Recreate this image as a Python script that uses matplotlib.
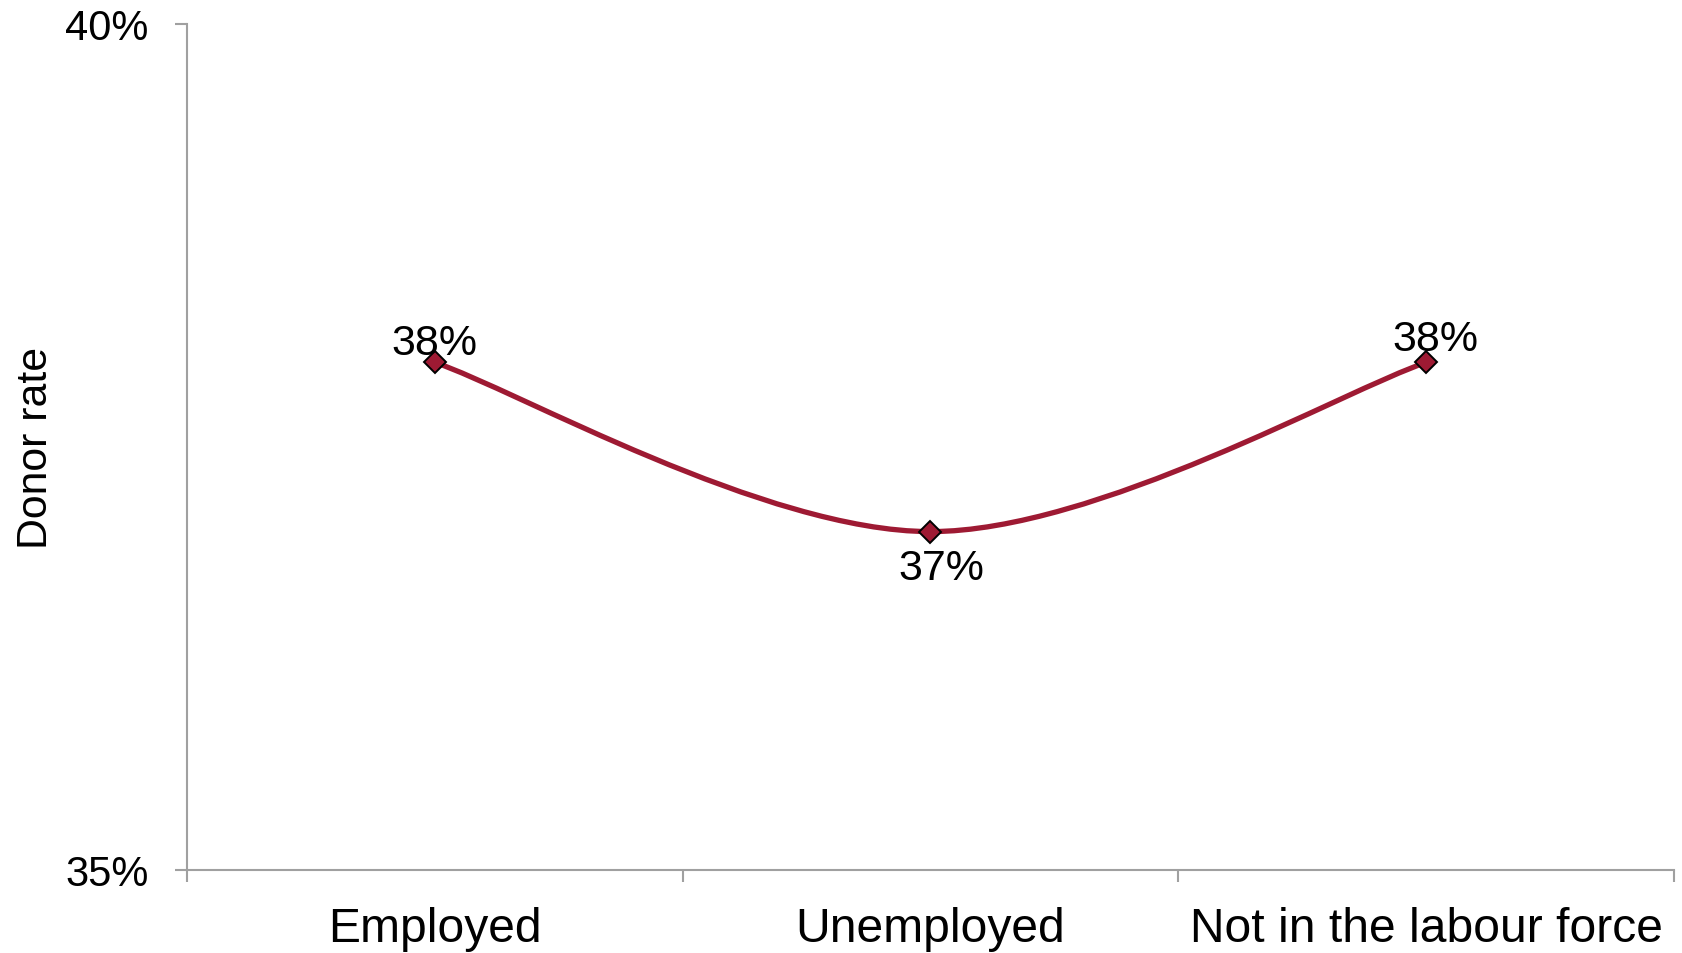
import numpy as np
import matplotlib
matplotlib.use("Agg")
import matplotlib.pyplot as plt
from matplotlib.path import Path
from matplotlib.patches import PathPatch

categories = ["Employed", "Unemployed", "Not in the labour force"]
donor_rate = [38.0, 37.0, 38.0]
value_labels = ["38%", "37%", "38%"]

plt.rcParams["font.family"] = ["Liberation Sans", "DejaVu Sans"]

LINE = "#9E1A33"
AXIS = "#A0A0A0"

fig = plt.figure(figsize=(16.83, 9.54), dpi=100)
ax = fig.add_axes([187 / 1683, 83 / 954, 1487 / 1683, 846 / 954])

x = np.arange(len(categories), dtype=float)
y = np.array(donor_rate)

# Excel-style smoothed line: cubic bezier through the points (Catmull-Rom)
pts = np.column_stack([x, y])
ext = np.vstack([pts[0], pts, pts[-1]])
verts = [tuple(pts[0])]
codes = [Path.MOVETO]
for i in range(len(pts) - 1):
    p0, p1, p2, p3 = ext[i], ext[i + 1], ext[i + 2], ext[i + 3]
    c1 = p1 + (p2 - p0) / 6
    c2 = p2 - (p3 - p1) / 6
    verts += [tuple(c1), tuple(c2), tuple(p2)]
    codes += [Path.CURVE4] * 3
ax.add_patch(PathPatch(Path(verts, codes), facecolor="none", edgecolor=LINE,
                       lw=3.8, zorder=2, capstyle="round"))
ax.plot(x, y, ls="none", marker="D", ms=11, mfc=LINE, mec="black", mew=1.4, zorder=3)

# data labels (offsets in points)
offsets = [(0, 6), (8, -34), (7, 9)]
for xi, yi, lab, off in zip(x, y, value_labels, offsets):
    ax.annotate(lab, (xi, yi), xytext=off, textcoords="offset points",
                ha="center", va="baseline", fontsize=31, color="black")

ax.set_xlim(-0.5, 2.5)
ax.set_ylim(35, 40)
ax.set_yticks([35, 40])
ax.set_yticklabels(["35%", "40%"])
ax.set_xticks([-0.5, 0.5, 1.5, 2.5])
ax.set_xticklabels([])
ax.set_xticks(x, minor=True)
ax.set_xticklabels(categories, minor=True, fontsize=34.6)

for s in ["top", "right"]:
    ax.spines[s].set_visible(False)
for s in ["left", "bottom"]:
    ax.spines[s].set_color(AXIS)
    ax.spines[s].set_linewidth(1.5)

ax.tick_params(axis="y", direction="out", length=8.6, width=1.5, color=AXIS,
               labelsize=30, pad=19)
ax.tick_params(axis="x", which="major", direction="out", length=8.6, width=1.5, color=AXIS)
ax.tick_params(axis="x", which="minor", length=0, pad=26)

ax.set_ylabel("Donor rate", fontsize=30.8)
ax.yaxis.label.set_va("center")
ax.yaxis.set_label_coords(-151 / 1487, 0.5)

plt.savefig("out.png", dpi=100)
